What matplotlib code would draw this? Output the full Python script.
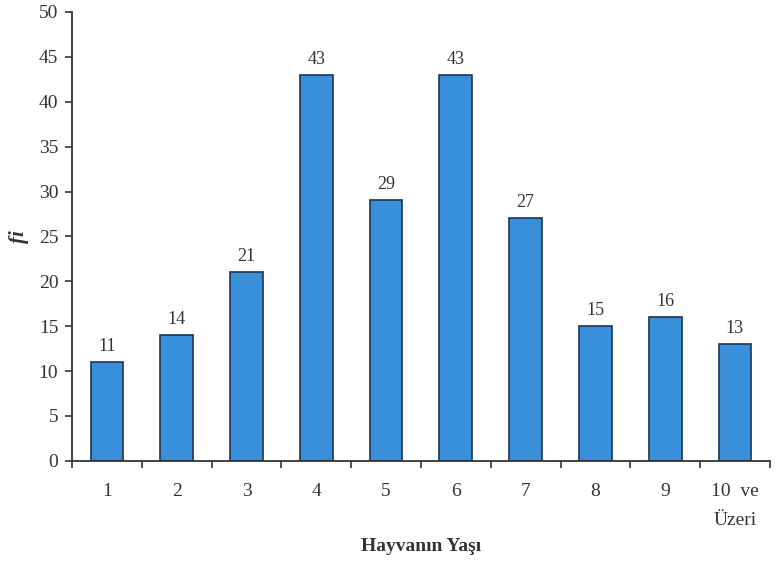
import matplotlib.pyplot as plt
import numpy as np

categories = ['1', '2', '3', '4', '5', '6', '7', '8', '9', '10  ve\nÜzeri']
values = [11, 14, 21, 43, 29, 43, 27, 15, 16, 13]

plt.rcParams['font.family'] = ['Liberation Serif', 'DejaVu Serif']

fig = plt.figure(figsize=(7.76, 5.71), dpi=100)
ax = fig.add_axes([0.093, 0.193, 0.899, 0.786])

x = np.arange(1, len(values) + 1)
bars = ax.bar(x, values, width=0.47, color='#3a8fda', edgecolor='#1f3550', linewidth=1.2)

# value labels above each bar
for xi, v in zip(x, values):
    ax.text(xi, v + 0.8, str(v), ha='center', va='bottom', fontsize=13, color='#333333')

ax.set_xlim(0.5, len(values) + 0.5)
ax.set_ylim(0, 50)
ax.set_yticks(range(0, 51, 5))

# category labels centred, tick marks at category boundaries
ax.set_xticks(x)
ax.set_xticklabels(categories, fontsize=14, color='#333333', linespacing=1.95, va='top')
ax.tick_params(axis='x', which='major', length=0, pad=16)
ax.set_xticks(np.arange(0.5, len(values) + 1), minor=True)
ax.tick_params(axis='x', which='minor', length=5, width=1.2, color='#333333', direction='out')
ax.tick_params(axis='y', length=5, width=1.2, color='#333333', labelsize=14, labelcolor='#333333', pad=5)

for side in ['top', 'right']:
    ax.spines[side].set_visible(False)
for side in ['left', 'bottom']:
    ax.spines[side].set_color('#333333')
    ax.spines[side].set_linewidth(1.3)

ax.set_ylabel('fi', fontsize=15, fontweight='bold', fontstyle='italic', color='#333333', labelpad=7)
ax.set_xlabel('Hayvanın Yaşı', fontsize=14, fontweight='bold', color='#333333', labelpad=6)

fig.savefig('out.png', dpi=100)
